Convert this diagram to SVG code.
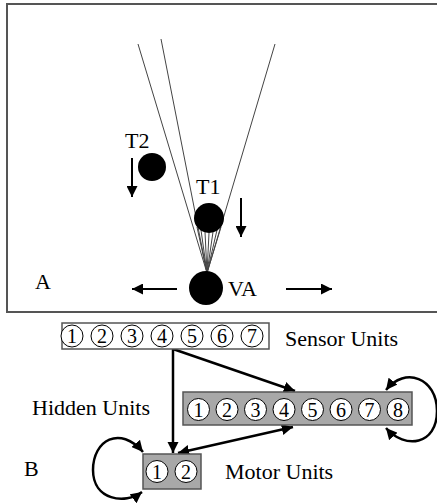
<svg xmlns="http://www.w3.org/2000/svg" width="437" height="504" viewBox="0 0 437 504">
<defs>
<style>
.lbl{font-family:"Liberation Serif","Times New Roman",serif;font-size:22px;fill:#000}
.num{font-family:"Liberation Serif","Times New Roman",serif;font-size:20px;fill:#000;text-anchor:middle}
.uc{fill:#fff;stroke:#000;stroke-width:1}
.box{fill:#a8a8a8;stroke:#555;stroke-width:1.5}
.ray{stroke:#444;stroke-width:1;fill:none}
.con{stroke:#000;stroke-width:2.5;fill:none}
.mv{stroke:#000;stroke-width:2;fill:none}
</style>
<marker id="ah" viewBox="0 0 10 10" refX="10" refY="5" markerWidth="4.5" markerHeight="4.5" orient="auto-start-reverse" markerUnits="strokeWidth">
<path d="M0,0 L10,5 L0,10 z" fill="#000"/>
</marker>
<marker id="am" viewBox="0 0 10 10" refX="10" refY="5" markerWidth="6" markerHeight="5.5" orient="auto-start-reverse" markerUnits="strokeWidth">
<path d="M0,0 L10,5 L0,10 z" fill="#000"/>
</marker>
</defs>

<g id="panelA">
<rect x="7" y="4" width="440" height="308" fill="#fff" stroke="#555" stroke-width="2"/>
<g id="rays">
<line class="ray" x1="207" y1="273" x2="138" y2="44"/>
<line class="ray" x1="207" y1="273" x2="161" y2="39"/>
<line class="ray" x1="207" y1="273" x2="275" y2="44"/>
<line class="ray" x1="207" y1="273" x2="197" y2="227"/>
<line class="ray" x1="207" y1="273" x2="201" y2="230"/>
<line class="ray" x1="207" y1="273" x2="205" y2="232"/>
<line class="ray" x1="207" y1="273" x2="209" y2="233"/>
<line class="ray" x1="207" y1="273" x2="213" y2="232"/>
<line class="ray" x1="207" y1="273" x2="217" y2="230"/>
<line class="ray" x1="207" y1="273" x2="221" y2="227"/>
</g>
<g id="T2">
<circle cx="152" cy="167" r="14" fill="#000"/>
<text class="lbl" x="125" y="148">T2</text>
<line class="mv" x1="132" y1="158" x2="132" y2="197" marker-end="url(#am)"/>
</g>
<g id="T1">
<circle cx="209" cy="218" r="15" fill="#000"/>
<text class="lbl" x="196" y="194">T1</text>
<line class="mv" x1="241" y1="198" x2="241" y2="237" marker-end="url(#am)"/>
</g>
<g id="VA">
<circle cx="206" cy="288" r="17" fill="#000"/>
<text class="lbl" x="228" y="296">VA</text>
<line class="mv" x1="177" y1="289" x2="132" y2="289" marker-end="url(#am)"/>
<line class="mv" x1="286" y1="289" x2="332" y2="289" marker-end="url(#am)"/>
</g>
<text class="lbl" x="35" y="289">A</text>
</g>

<g id="connectors">
<line class="con" x1="173" y1="348" x2="173" y2="453" marker-end="url(#ah)"/>
<line class="con" x1="173" y1="349" x2="295" y2="391" marker-end="url(#ah)"/>
<line class="con" x1="178" y1="453" x2="293" y2="427" marker-start="url(#ah)" marker-end="url(#ah)"/>
<path class="con" d="M386,428 C405,450 437,445 437,411 C437,378 405,366 386,390" marker-start="url(#ah)" marker-end="url(#ah)"/>
<path class="con" d="M143,452 C120,425 93,440 93,470 C93,500 125,505 142,492" marker-start="url(#ah)" marker-end="url(#ah)"/>
</g>

<g id="sensor">
<rect x="62" y="323" width="207" height="26" fill="#fff" stroke="#555" stroke-width="1.5"/>
<circle class="uc" cx="72" cy="336" r="11"/><text class="num" x="72" y="343">1</text>
<circle class="uc" cx="102" cy="336" r="11"/><text class="num" x="102" y="343">2</text>
<circle class="uc" cx="132" cy="336" r="11"/><text class="num" x="132" y="343">3</text>
<circle class="uc" cx="162" cy="336" r="11"/><text class="num" x="162" y="343">4</text>
<circle class="uc" cx="192" cy="336" r="11"/><text class="num" x="192" y="343">5</text>
<circle class="uc" cx="222" cy="336" r="11"/><text class="num" x="222" y="343">6</text>
<circle class="uc" cx="252" cy="336" r="11"/><text class="num" x="252" y="343">7</text>
<text class="lbl" x="285" y="346">Sensor Units</text>
</g>

<g id="hidden">
<rect class="box" x="183" y="392" width="229" height="33"/>
<circle class="uc" cx="198.5" cy="409.5" r="11"/><text class="num" x="198.5" y="416.5">1</text>
<circle class="uc" cx="227" cy="409.5" r="11"/><text class="num" x="227" y="416.5">2</text>
<circle class="uc" cx="255.5" cy="409.5" r="11"/><text class="num" x="255.5" y="416.5">3</text>
<circle class="uc" cx="284" cy="409.5" r="11"/><text class="num" x="284" y="416.5">4</text>
<circle class="uc" cx="312.5" cy="409.5" r="11"/><text class="num" x="312.5" y="416.5">5</text>
<circle class="uc" cx="341" cy="409.5" r="11"/><text class="num" x="341" y="416.5">6</text>
<circle class="uc" cx="369.5" cy="409.5" r="11"/><text class="num" x="369.5" y="416.5">7</text>
<circle class="uc" cx="398" cy="409.5" r="11"/><text class="num" x="398" y="416.5">8</text>
<text class="lbl" x="32" y="415">Hidden Units</text>
</g>

<g id="motor">
<rect class="box" x="143" y="454" width="58" height="35"/>
<circle class="uc" cx="157" cy="471.5" r="11"/><text class="num" x="157" y="478.5">1</text>
<circle class="uc" cx="186" cy="471.5" r="11"/><text class="num" x="186" y="478.5">2</text>
<text class="lbl" x="225" y="479">Motor Units</text>
</g>
<text class="lbl" x="24" y="476">B</text>
</svg>
